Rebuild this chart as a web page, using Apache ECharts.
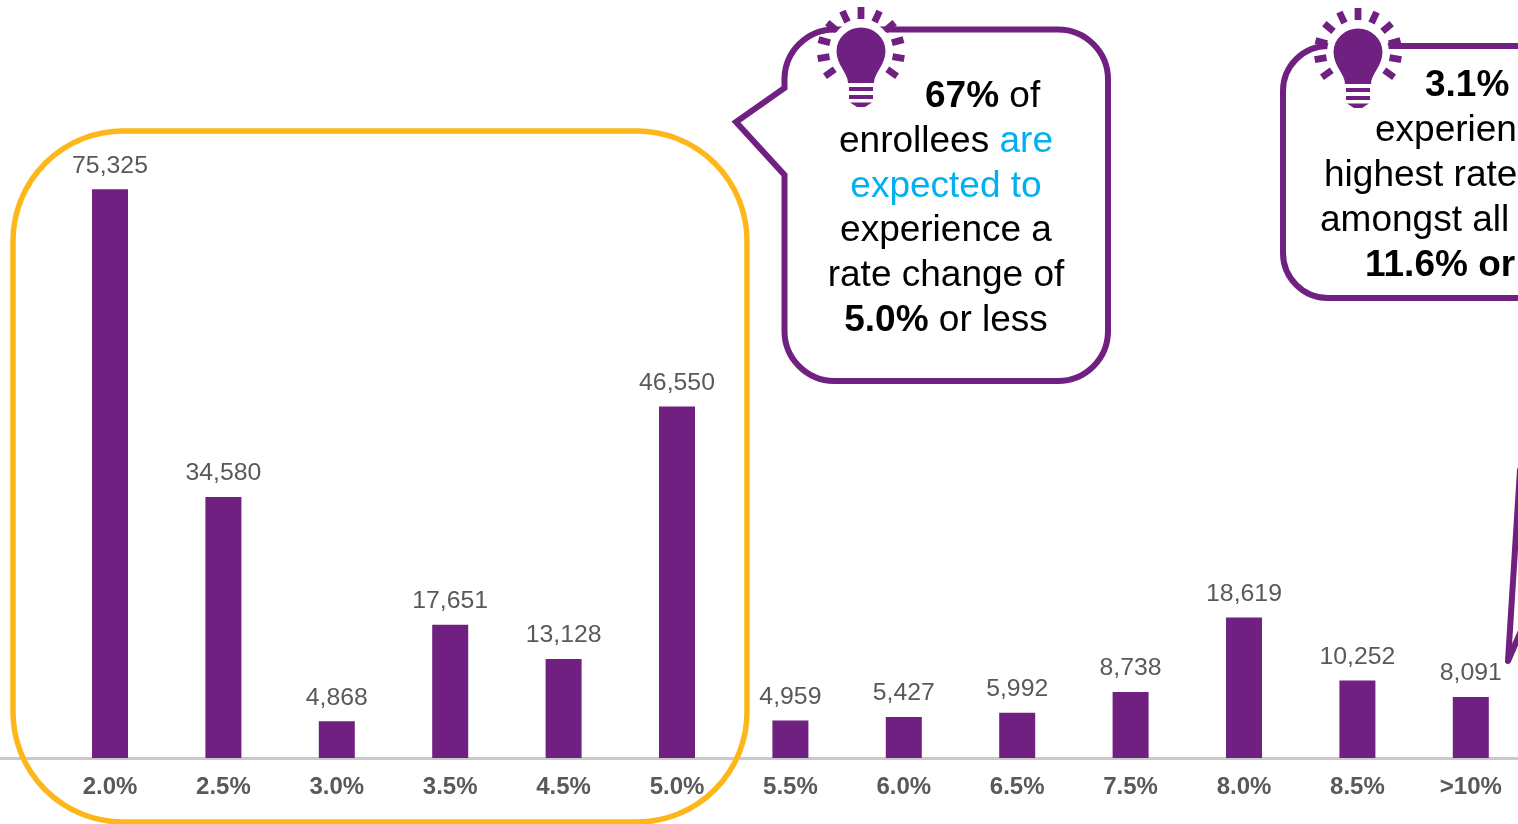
<!DOCTYPE html>
<html>
<head>
<meta charset="utf-8">
<style>html,body{margin:0;padding:0;background:#fff;overflow:hidden}#chart{width:1518px;height:824px}</style>
<script src="https://cdn.jsdelivr.net/npm/echarts@6/dist/echarts.min.js"></script>
</head>
<body>
<div id="chart"></div>
<script>
// Enrollees by expected rate change
const rateBands = ['2.0%','2.5%','3.0%','3.5%','4.5%','5.0%','5.5%','6.0%','6.5%','7.5%','8.0%','8.5%','>10%'];
const enrollees = [75325,34580,4868,17651,13128,46550,4959,5427,5992,8738,18619,10252,8091];

const PURPLE = '#6f2080';
const FONT = '"Liberation Sans", Arial, sans-serif';

// SVG path strings become graphic shapes through registered shape classes
let shapeCount = 0;
function pathEl(z, d, style, extra) {
  const name = 'calloutShape' + (shapeCount++);
  echarts.graphic.registerShape(name, echarts.graphic.extendPath(d));
  return Object.assign({ type: name, z, style }, extra);
}

// Light bulb icon: body and base bars around (0,0), plus radial rays
const rayAngles = [-125,-100,-75,-50,-25,0,25,50,75,100,125];
function rayPath(cx, cy) {
  return rayAngles.map(a => {
    const t = a * Math.PI / 180, s = Math.sin(t), c = Math.cos(t);
    const pt = (r, w) => (cx + r * s + w * c).toFixed(1) + ' ' + (cy - r * c + w * s).toFixed(1);
    return 'M' + pt(32, -3.4) + 'L' + pt(44, -3.4) + 'L' + pt(44, 3.4) + 'L' + pt(32, 3.4) + 'Z';
  }).join('');
}
function bulb(cx, cy) {
  const body = 'M-13 32C-13 22 -24.5 14 -24.5 0A24.5 23.5 0 1 1 24.5 0C24.5 14 13 22 13 32Z'
    + 'M-12 36L12 36L12 40L-12 40Z M-12 44L12 44L12 48L-12 48Z M-11 51.5L11 51.5L4 56L-4 56Z';
  return [
    { type: 'circle', z: 30, shape: { cx, cy, r: 31 }, style: { fill: '#fff' } },
    pathEl(31, rayPath(cx, cy), { fill: PURPLE }),
    pathEl(32, body, { fill: PURPLE }, { x: cx, y: cy })
  ];
}

// One line of callout text, positioned by its anchor
function line(x, y, align, text) {
  return { type: 'text', z: 33, x, y, style: {
    text, x: 0, y: 0, align, verticalAlign: 'middle', font: '37px ' + FONT, fill: '#000',
    rich: {
      b: { font: 'bold 37px ' + FONT, fill: '#000' },
      n: { font: '37px ' + FONT, fill: '#000' },
      c: { font: '37px ' + FONT, fill: '#00b0f0' }
    }
  } };
}

const highlightFrame = 'M123 131L637 131A110 110 0 0 1 747 241L747 712A110 110 0 0 1 637 822L123 822A110 110 0 0 1 13 712L13 241A110 110 0 0 1 123 131Z';
const bubbleLeft = 'M834 29.4L1058 29.4A50 50 0 0 1 1108 79.4L1108 331A50 50 0 0 1 1058 381L834 381A50 50 0 0 1 784.5 331L784.5 175L736 122L784.5 88L784.5 79A50 50 0 0 1 834 29.4Z';
const bubbleRight = 'M1530 46L1328 46A45 45 0 0 0 1283 91L1283 253A45 45 0 0 0 1328 298L1530 298';
const bubbleRightTail = 'M1520 470L1508 661L1530 610';

const graphic = [
  { type: 'line', z: 1, shape: { x1: 0, y1: 758.5, x2: 60, y2: 758.5 }, style: { stroke: '#c9c9c9', lineWidth: 3 } },
  pathEl(20, highlightFrame, { fill: 'none', stroke: '#fdb71a', lineWidth: 5.5 }),
  pathEl(25, bubbleLeft, { fill: '#fff', stroke: PURPLE, lineWidth: 6 }),
  pathEl(25, bubbleRight, { fill: '#fff', stroke: PURPLE, lineWidth: 6 }),
  pathEl(25, bubbleRightTail, { fill: 'none', stroke: PURPLE, lineWidth: 6, lineCap: 'round', lineJoin: 'round' }),
  ...bulb(861, 51),
  ...bulb(1358, 52),
  line(925, 97, 'left', '{b|67%}{n| of}'),
  line(946, 142, 'center', '{n|enrollees }{c|are}'),
  line(946, 187, 'center', '{c|expected to}'),
  line(946, 231, 'center', '{n|experience a}'),
  line(946, 276, 'center', '{n|rate change of}'),
  line(946, 321, 'center', '{b|5.0%}{n| or less}'),
  line(1425, 86, 'left', '{b|3.1%}'),
  line(1375, 131, 'left', '{n|experience}'),
  line(1324, 176, 'left', '{n|highest rate}'),
  line(1320, 221, 'left', '{n|amongst all}'),
  line(1365, 266, 'left', '{b|11.6% or}')
];

const chart = echarts.init(document.getElementById('chart'), null, { renderer: 'canvas' });
chart.setOption({
  animation: false,
  backgroundColor: '#fff',
  grid: { left: 53.3, top: 154, width: 1474.2, height: 604, containLabel: false, outerBoundsMode: 'none' },
  xAxis: {
    type: 'category',
    data: rateBands,
    offset: 1,
    axisLine: { show: true, lineStyle: { color: '#c9c9c9', width: 3 } },
    axisTick: { show: false },
    axisLabel: { interval: 0, margin: 16, color: '#595959', fontFamily: FONT, fontWeight: 'bold', fontSize: 24 }
  },
  yAxis: { type: 'value', min: 0, max: 80000, show: false, splitLine: { show: false } },
  series: [{
    type: 'bar',
    data: enrollees,
    barWidth: 36,
    itemStyle: { color: PURPLE },
    label: {
      show: true,
      position: 'top',
      distance: 11,
      color: '#595959',
      fontFamily: FONT,
      fontSize: 24.8,
      formatter: p => p.value.toLocaleString('en-US')
    }
  }],
  graphic
});
</script>
</body>
</html>
